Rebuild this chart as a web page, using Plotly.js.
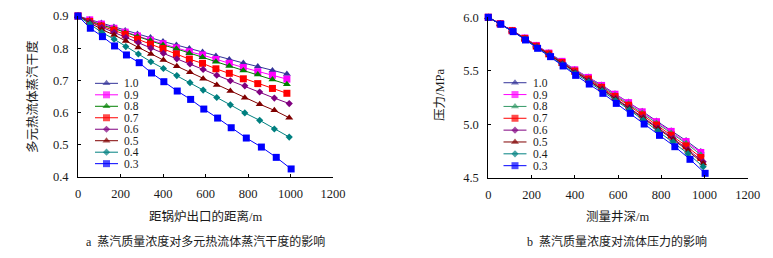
<!DOCTYPE html>
<html>
<head>
<meta charset="utf-8">
<script src="https://cdn.plot.ly/plotly-3.0.1.min.js"></script>
<style>html,body{margin:0;padding:0;background:#fff;}#chart{width:773px;height:258px;}</style>
</head>
<body>
<div id="chart"></div>
<script>
// ---- data ----
const seriesNames = ['1.0', '0.9', '0.8', '0.7', '0.6', '0.5', '0.4', '0.3'];

// distance from boiler outlet / measured depth (m)
const distHi  = [0, 55, 110, 169, 222, 280, 341, 400, 463, 524, 586, 649, 712, 778, 846, 915, 983];
const distMid = [0, 56, 112, 170, 225, 284, 343, 402, 465, 527, 589, 653, 717, 785, 855, 924, 994];
const distLo  = [0, 58, 115, 172, 228, 288, 346, 404, 467, 530, 592, 657, 721, 792, 863, 933, 1003];

// chart a: steam dryness of multi-component thermal fluid
const dry10 = [0.900, 0.889, 0.878, 0.866, 0.855, 0.844, 0.833, 0.821, 0.810, 0.799, 0.788, 0.776, 0.765, 0.754, 0.743, 0.731, 0.720];
const dry09 = [0.900, 0.888, 0.875, 0.862, 0.850, 0.838, 0.825, 0.814, 0.801, 0.789, 0.779, 0.765, 0.753, 0.740, 0.727, 0.716, 0.704];
const dry08 = [0.900, 0.886, 0.872, 0.861, 0.849, 0.836, 0.824, 0.810, 0.798, 0.784, 0.772, 0.758, 0.745, 0.731, 0.718, 0.703, 0.688];
const dry07 = [0.900, 0.883, 0.869, 0.856, 0.843, 0.828, 0.813, 0.799, 0.782, 0.766, 0.753, 0.736, 0.722, 0.705, 0.690, 0.675, 0.660];
const dry06 = [0.900, 0.882, 0.865, 0.849, 0.833, 0.817, 0.800, 0.784, 0.767, 0.751, 0.734, 0.716, 0.699, 0.683, 0.664, 0.645, 0.628];
const dry05 = [0.900, 0.879, 0.858, 0.841, 0.822, 0.802, 0.782, 0.763, 0.744, 0.725, 0.705, 0.686, 0.667, 0.646, 0.626, 0.607, 0.584];
const dry04 = [0.900, 0.875, 0.849, 0.828, 0.805, 0.782, 0.758, 0.737, 0.715, 0.693, 0.670, 0.647, 0.624, 0.599, 0.576, 0.549, 0.524];
const dry03 = [0.900, 0.862, 0.836, 0.807, 0.779, 0.755, 0.723, 0.696, 0.667, 0.641, 0.611, 0.583, 0.553, 0.521, 0.493, 0.461, 0.425];

// chart b: fluid pressure (MPa)
const press10 = [6.000, 5.940, 5.878, 5.808, 5.738, 5.668, 5.590, 5.512, 5.441, 5.367, 5.285, 5.207, 5.122, 5.031, 4.940, 4.847, 4.746];
const press09 = [6.000, 5.940, 5.877, 5.807, 5.737, 5.666, 5.588, 5.509, 5.438, 5.363, 5.281, 5.202, 5.116, 5.024, 4.933, 4.838, 4.736];
const press08 = [6.000, 5.939, 5.876, 5.805, 5.734, 5.663, 5.583, 5.504, 5.431, 5.355, 5.272, 5.191, 5.104, 5.011, 4.918, 4.821, 4.715];
const press07 = [6.000, 5.939, 5.875, 5.802, 5.730, 5.658, 5.577, 5.497, 5.423, 5.345, 5.260, 5.178, 5.088, 4.993, 4.898, 4.798, 4.689];
const press06 = [6.000, 5.938, 5.872, 5.798, 5.725, 5.651, 5.568, 5.486, 5.410, 5.330, 5.242, 5.157, 5.064, 4.966, 4.868, 4.763, 4.648];
const press05 = [6.000, 5.937, 5.871, 5.797, 5.723, 5.648, 5.565, 5.482, 5.405, 5.324, 5.236, 5.149, 5.056, 4.957, 4.858, 4.751, 4.633];
const press04 = [6.000, 5.937, 5.870, 5.794, 5.718, 5.643, 5.559, 5.474, 5.396, 5.312, 5.222, 5.134, 5.038, 4.937, 4.835, 4.725, 4.603];
const press03 = [6.000, 5.935, 5.866, 5.788, 5.710, 5.632, 5.545, 5.457, 5.376, 5.289, 5.195, 5.102, 5.002, 4.896, 4.790, 4.672, 4.541];

const xTicks = [0, 200, 400, 600, 800, 1000, 1200];

// ---- styles ----
const FONT = 'Liberation Serif, Noto Sans CJK SC, serif';
const TXT = '#1a1a1a';
const dryData = [dry10, dry09, dry08, dry07, dry06, dry05, dry04, dry03];
const pressData = [press10, press09, press08, press07, press06, press05, press04, press03];
const distFor = [distHi, distHi, distHi, distHi, distMid, distMid, distMid, distLo];
const colorsA = ['#333399', '#FF00FF', '#008000', '#FF0000', '#800080', '#800000', '#008080', '#0000FF'];
const colorsB = ['#333399', '#FF00FF', '#339966', '#FF0000', '#800080', '#800000', '#008080', '#0000FF'];
const symbols = ['triangle-up', 'square', 'triangle-up', 'square', 'diamond', 'triangle-up', 'diamond', 'square'];
const sizes = [7, 7, 7, 7, 5.5, 7, 5.5, 7];

const traces = [];
function addSeries(ys, colors, xa, ya) {
  ys.forEach((y, i) => {
    traces.push({
      x: distFor[i], y: y, xaxis: xa, yaxis: ya, type: 'scatter', mode: 'lines+markers',
      name: seriesNames[i], showlegend: false, cliponaxis: false,
      line: {color: colors[i], width: 1},
      marker: {color: colors[i], symbol: symbols[i], size: sizes[i], line: {width: 0}}
    });
  });
}
addSeries(dryData, colorsA, 'x', 'y');
addSeries(pressData, colorsB, 'x2', 'y2');

// custom compact legends (one row per series index)
const annotations = [];
function addLegend(colors, xa, ya) {
  seriesNames.forEach((nm, i) => {
    traces.push({
      x: [0, 0.5, 1], y: [i, i, i], xaxis: xa, yaxis: ya, type: 'scatter', mode: 'lines+markers',
      showlegend: false, hoverinfo: 'skip', cliponaxis: false,
      line: {color: colors[i], width: 1},
      marker: {color: colors[i], symbol: symbols[i], size: [0, sizes[i], 0], line: {width: 0}}
    });
    annotations.push({xref: xa, yref: ya, x: 1, y: i, xanchor: 'left', yanchor: 'middle', xshift: 4,
      text: nm, showarrow: false, font: {family: FONT, size: 11.5, color: TXT}});
  });
}
addLegend(colorsA, 'x3', 'y3');
addLegend(colorsB, 'x4', 'y4');

function txt(t, x, y, size, angle) {
  annotations.push({xref: 'paper', yref: 'paper', x: x / 773, y: 1 - y / 258, xanchor: 'center', yanchor: 'middle',
    text: t, showarrow: false, textangle: angle || 0, font: {family: FONT, size: size, color: TXT}});
}
txt('距锅炉出口的距离/m', 205.5, 216.5, 12.5);
txt('a  蒸汽质量浓度对多元热流体蒸汽干度的影响', 205.5, 241, 12);
txt('多元热流体蒸汽干度', 32, 97, 12.5, -90);
txt('测量井深/m', 617, 216.5, 12.5);
txt('b  蒸汽质量浓度对流体压力的影响', 617, 241, 12);
txt('压力/MPa', 440, 95, 12.5, -90);

const axBase = {
  showline: true, linecolor: '#000', linewidth: 1, showgrid: false, zeroline: false,
  ticks: 'inside', ticklen: 3, tickwidth: 1, tickcolor: '#000',
  tickfont: {family: FONT, size: 12.5, color: TXT}, fixedrange: true
};
const hidden = {visible: false, fixedrange: true, showgrid: false, zeroline: false};

const layout = {
  width: 773, height: 258,
  margin: {l: 0, r: 0, t: 0, b: 0, autoexpand: false},
  paper_bgcolor: '#fff', plot_bgcolor: 'rgba(0,0,0,0)',
  showlegend: false,
  xaxis: Object.assign({}, axBase, {domain: [78 / 773, 333 / 773], range: [0, 1200], tickvals: xTicks, anchor: 'y', ticklabelstandoff: 5}),
  yaxis: Object.assign({}, axBase, {domain: [1 - 177 / 258, 1 - 16 / 258], range: [0.4, 0.9], dtick: 0.1, tickformat: '.1f', anchor: 'x', ticklabelstandoff: 6}),
  xaxis2: Object.assign({}, axBase, {domain: [488.3 / 773, 747.7 / 773], range: [0, 1200], tickvals: xTicks, anchor: 'y2', ticklabelstandoff: 5}),
  yaxis2: Object.assign({}, axBase, {domain: [1 - 177.7 / 258, 1 - 17.3 / 258], range: [4.5, 6.0], dtick: 0.5, tickformat: '.1f', anchor: 'x2', ticklabelstandoff: 6}),
  xaxis3: Object.assign({}, hidden, {domain: [95 / 773, 118 / 773], range: [0, 1], anchor: 'y3'}),
  yaxis3: Object.assign({}, hidden, {domain: [1 - 169.4 / 258, 1 - 77.6 / 258], range: [7.5, -0.5], anchor: 'x3'}),
  xaxis4: Object.assign({}, hidden, {domain: [503.3 / 773, 526.7 / 773], range: [0, 1], anchor: 'y4'}),
  yaxis4: Object.assign({}, hidden, {domain: [1 - 171.6 / 258, 1 - 76.8 / 258], range: [7.5, -0.5], anchor: 'x4'}),
  annotations: annotations
};

Plotly.newPlot('chart', traces, layout, {staticPlot: true, displayModeBar: false});
</script>
</body>
</html>
